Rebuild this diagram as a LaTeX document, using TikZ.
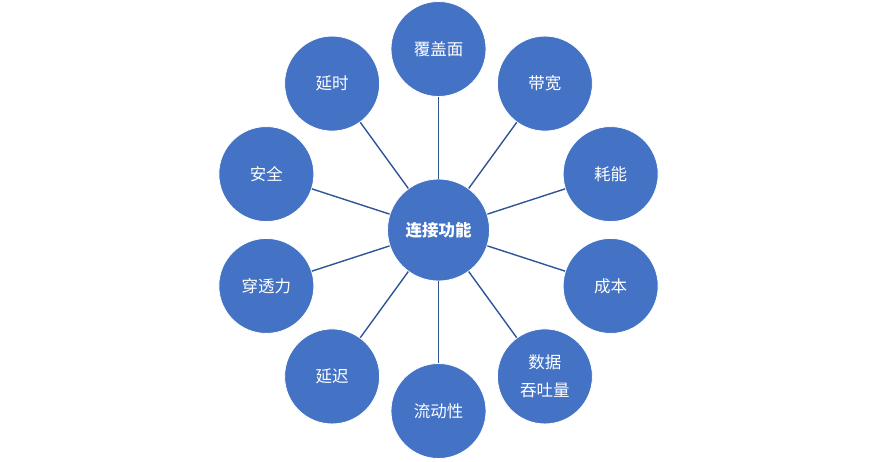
\documentclass[tikz,border=0pt]{standalone}
\usepackage{fontspec}
\newfontfamily\cjk{Noto Sans CJK SC}
\definecolor{nodeblue}{HTML}{4472C4}
\definecolor{linkblue}{HTML}{2F5597}
\begin{document}
\begin{tikzpicture}[x=1pt,y=-1pt,
  outer/.style={circle,fill=nodeblue,draw=white,line width=0.8pt,minimum size=95pt,inner sep=0pt,text=white,font=\cjk\fontsize{16.5}{28}\selectfont,align=center},
  hub/.style={circle,fill=nodeblue,draw=white,line width=0.8pt,minimum size=102pt,inner sep=0pt,text=white,font=\cjk\bfseries\fontsize{16.5}{20}\selectfont},
  link/.style={draw=linkblue,line width=1.4pt}]
\useasboundingbox (0,0) rectangle (878,461);
\node[hub] (c) at (438.5,230) {连接功能};
\foreach \ang/\name/\txt in {90/n1/覆盖面,54/n2/带宽,18/n3/耗能,-18/n4/成本,-54/n5/{数据\\吞吐量},-90/n6/流动性,-126/n7/延迟,-162/n8/穿透力,162/n9/安全,126/n10/延时}{
  \node[outer] (\name) at ({438.5+181*cos(\ang)},{230-181*sin(\ang)}) {\txt};
  \draw[link] (c) -- (\name);
}
\end{tikzpicture}
\end{document}
